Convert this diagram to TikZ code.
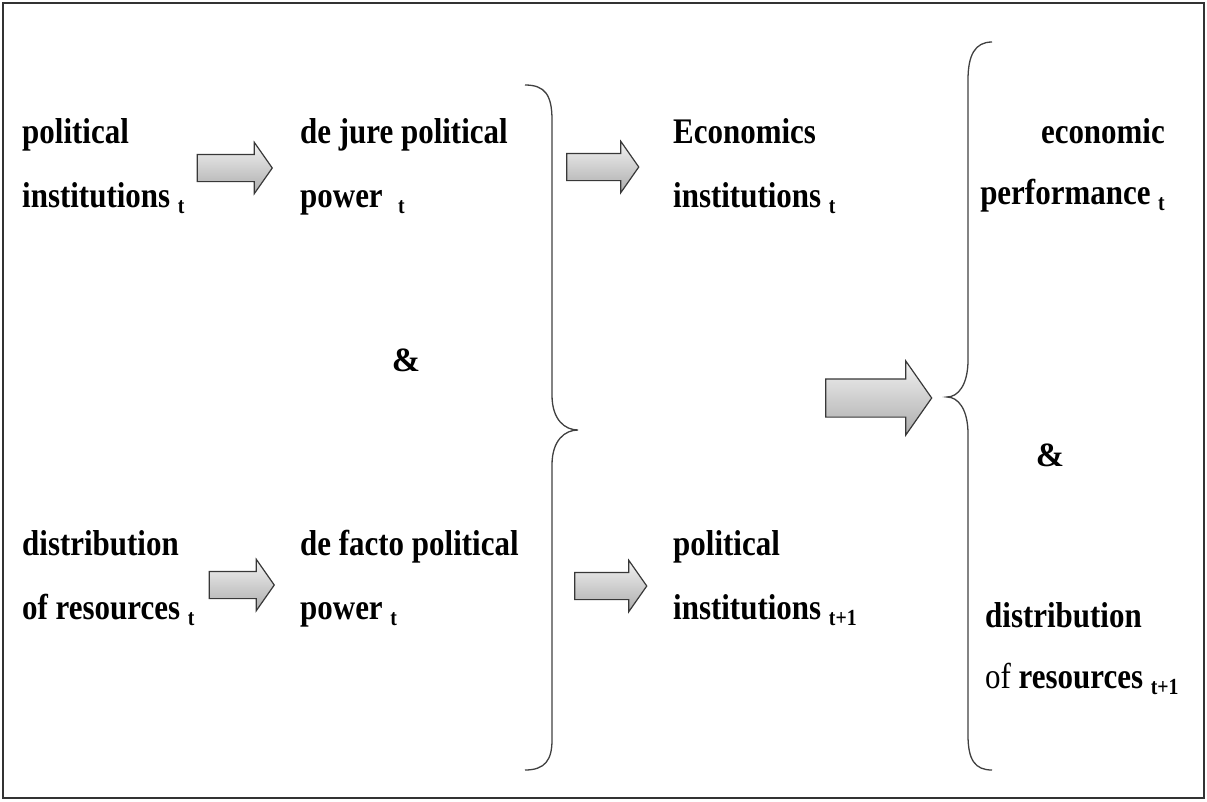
\documentclass[tikz,border=0pt]{standalone}
\usepackage{graphicx}
\usepackage{fontspec}
\setmainfont{Liberation Serif}
\usetikzlibrary{shapes.arrows}
\newcommand\sbt[1]{\raisebox{-6pt}{\fontsize{23}{23}\selectfont #1}}
\newcommand\lblL[2][64]{\scalebox{0.86}[1]{\fontsize{36}{#1}\selectfont\bfseries\begin{tabular}[t]{@{}l@{}}#2\end{tabular}}}
\newcommand\lblR[2][61]{\scalebox{0.86}[1]{\fontsize{36}{#1}\selectfont\bfseries\begin{tabular}[t]{@{}r@{}}#2\end{tabular}}}
\tikzset{
  blk/.style={single arrow, draw=black!78, line width=1.2pt, top color=gray!10, bottom color=gray!65,
    inner xsep=0pt, inner ysep=13pt, single arrow head extend=12pt, single arrow tip angle=110},
  lbl/.style={inner sep=0pt, anchor=base west},
  brace/.style={draw=black!75, line width=1.3pt},
  amp/.style={inner sep=0pt, font=\fontsize{34}{34}\selectfont\bfseries}
}
\begin{document}
\begin{tikzpicture}[x=1pt,y=-1pt]
\useasboundingbox (0,0) rectangle (1207,801);
\draw[draw=black!80, line width=1.5pt] (3,3) rectangle (1204,798);
% texts
\node[lbl] (pi) at (22,143) {\lblL{political\\institutions \sbt{t}}};
\node[lbl] (dj) at (300,143) {\lblL{de jure political\\power \ \sbt{t}}};
\node[lbl] (ei) at (673,143) {\lblL{Economics\\institutions \sbt{t}}};
\node[inner sep=0pt, anchor=base east] (ep) at (1165,143) {\lblR{economic\\performance \sbt{t}}};
\node[lbl] (dr) at (22,555) {\lblL{distribution\\of resources \sbt{t}}};
\node[lbl] (df) at (300,555) {\lblL{de facto political\\power \sbt{t}}};
\node[lbl] (pn) at (673,555) {\lblL{political\\institutions \sbt{t+1}}};
\node[lbl] (dn) at (985,627) {\lblL[61]{distribution\\{\mdseries of} resources \sbt{t+1}}};
\node[amp] (a1) at (406,360) {\&};
\node[amp] (a2) at (1050,455) {\&};
% arrows
\node[blk, minimum height=75pt] (ar1) at (230,168) {};
\node[blk, minimum height=72pt] (ar2) at (598,167) {};
\node[blk, minimum height=65pt] (ar3) at (237,585) {};
\node[blk, minimum height=72pt] (ar4) at (606,586) {};
\node[blk, minimum height=106pt, inner ysep=18.5pt, single arrow head extend=18pt, single arrow tip angle=110] (ar5) at (872,398) {};
% braces
\coordinate (b1) at (578,430);
\coordinate (b2) at (947,397);
\draw[brace] (525,85) .. controls (545,85) and (552,95) .. (552,120) -- (552,395)
  .. controls (552,420) and (565,430) .. (b1)
  .. controls (565,430) and (552,440) .. (552,465) -- (552,740)
  .. controls (552,760) and (545,770) .. (525,770);
\draw[brace] (992,42) .. controls (975,42) and (968,55) .. (968,80) -- (968,360)
  .. controls (968,385) and (958,397) .. (b2)
  .. controls (958,397) and (968,409) .. (968,434) -- (968,735)
  .. controls (968,760) and (975,770) .. (992,770);
\end{tikzpicture}
\end{document}
